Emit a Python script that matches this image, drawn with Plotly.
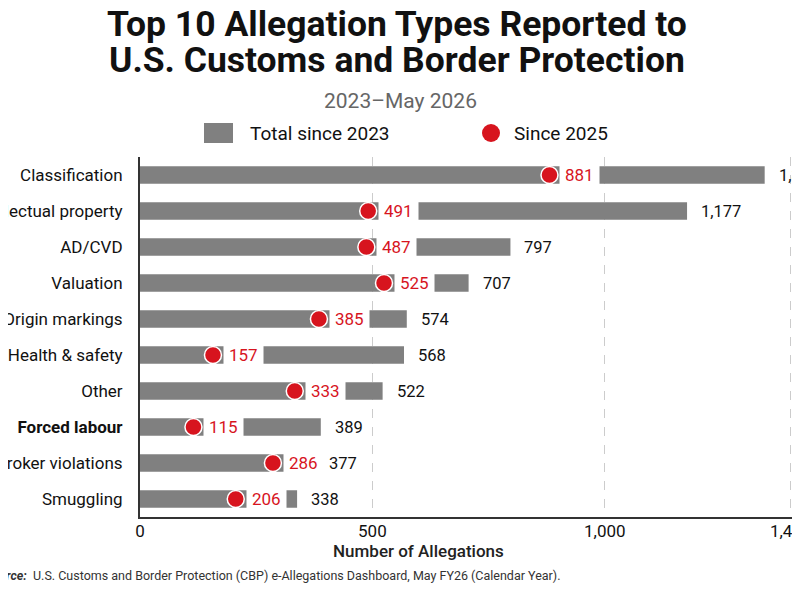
import plotly.graph_objects as go

# ===================== Data =====================
categories = ["Classification", "Intellectual property", "AD/CVD", "Valuation",
              "Origin markings", "Health & safety", "Other", "<b>Forced labour</b>",
              "Broker violations", "Smuggling"]
total_since_2023 = [1344, 1177, 797, 707, 574, 568, 522, 389, 377, 338]
since_2025 = [881, 491, 487, 525, 385, 157, 333, 115, 286, 206]
x_ticks = [0, 500, 1000, 1400]
x_tick_labels = ["0", "500", "1,000", "1,400"]

# ===================== Layout geometry =====================
# page body has an 8px margin, so the figure is 8px smaller than the window
W, H = 792, 592
L, R, T, B = 132, 0, 149, 83
PW, PH = W - L - R, H - T - B

GRAY = "#808080"
RED = "#d7141e"
FONT = "Roboto, Arial, sans-serif"


# positions below are given in window pixels
def px_x(x):
    return (x - 8 - L) / PW


def px_y(y):
    return (H - B - (y - 8)) / PH


fig = go.Figure()

# ===================== Bars (total since 2023) =====================
fig.add_trace(go.Bar(
    x=total_since_2023, y=categories, orientation="h",
    width=0.48, marker=dict(color=GRAY, line=dict(width=0)),
    name="Total since 2023", showlegend=False,
))

# ===================== Dots (since 2025) =====================
fig.add_trace(go.Scatter(
    x=since_2025, y=categories, mode="markers",
    marker=dict(size=17, color=RED, line=dict(color="white", width=1.5)),
    name="Since 2025", showlegend=False, cliponaxis=False,
))

annotations = []
for cat, tot, s in zip(categories, total_since_2023, since_2025):
    # red value label on a white box that cuts the bar
    annotations.append(dict(
        x=s, y=cat, xref="x", yref="y", text=str(s), showarrow=False,
        xanchor="left", yanchor="middle", xshift=10,
        bgcolor="white", borderpad=5,
        font=dict(family=FONT, size=17, color=RED),
    ))
    # total label at bar end
    annotations.append(dict(
        x=tot, y=cat, xref="x", yref="y", text=f"{tot:,}", showarrow=False,
        xanchor="left", yanchor="middle", xshift=12,
        font=dict(family=FONT, size=16.5, color="#111111"),
    ))


def page_text(x, y, text, size, color="#111111", xanchor="center", weight=400):
    return dict(x=px_x(x), y=px_y(y), xref="paper", yref="paper", text=text,
                showarrow=False, xanchor=xanchor, yanchor="middle",
                font=dict(family=FONT, size=size, color=color, weight=weight))


# ===================== Title, subtitle, legend, axis title, source =====================
annotations += [
    page_text(397, 24, "<b>Top 10 Allegation Types Reported to</b>", 35.5),
    page_text(397, 60, "<b>U.S. Customs and Border Protection</b>", 35.5),
    page_text(400, 101, "2023\u2013May 2026", 21, color="#666666"),
    page_text(248, 133, "Total since 2023", 19, xanchor="left"),
    page_text(512, 133, "Since 2025", 19, xanchor="left"),
    page_text(418, 551, "Number of Allegations", 17, color="#222222", weight=500),
    page_text(-17, 575, "<b><i>Source:</i></b>  U.S. Customs and Border Protection (CBP) "
                        "e-Allegations Dashboard, May FY26 (Calendar Year).",
              12.5, color="#333333", xanchor="left"),
]

shapes = [
    dict(type="rect", xref="paper", yref="paper",
         x0=px_x(204), x1=px_x(233), y0=px_y(143), y1=px_y(123),
         fillcolor=GRAY, line=dict(width=0)),
    dict(type="circle", xref="paper", yref="paper",
         x0=px_x(482), x1=px_x(500), y0=px_y(142), y1=px_y(124),
         fillcolor=RED, line=dict(width=0)),
]

fig.update_layout(
    width=W, height=H,
    margin=dict(l=L, r=R, t=T, b=B, autoexpand=False),
    paper_bgcolor="white", plot_bgcolor="white",
    annotations=annotations,
    shapes=shapes,
    showlegend=False,
)

fig.update_xaxes(
    range=[0, 1420], tickvals=x_ticks, ticktext=x_tick_labels,
    showgrid=True, gridcolor="#cccccc", griddash="dash", gridwidth=1,
    showline=True, linecolor="#333333", linewidth=2,
    ticks="", zeroline=False, automargin=False, ticklabelstandoff=-2,
    ticklabeloverflow="allow",
    tickfont=dict(family=FONT, size=17, color="#111111"),
)
fig.update_yaxes(
    range=[9.5, -0.5], showgrid=False,
    showline=True, linecolor="#333333", linewidth=2,
    ticks="", ticklabelstandoff=12, automargin=False,
    tickfont=dict(family=FONT, size=17, color="#111111"),
)

fig.write_html("out.html")
